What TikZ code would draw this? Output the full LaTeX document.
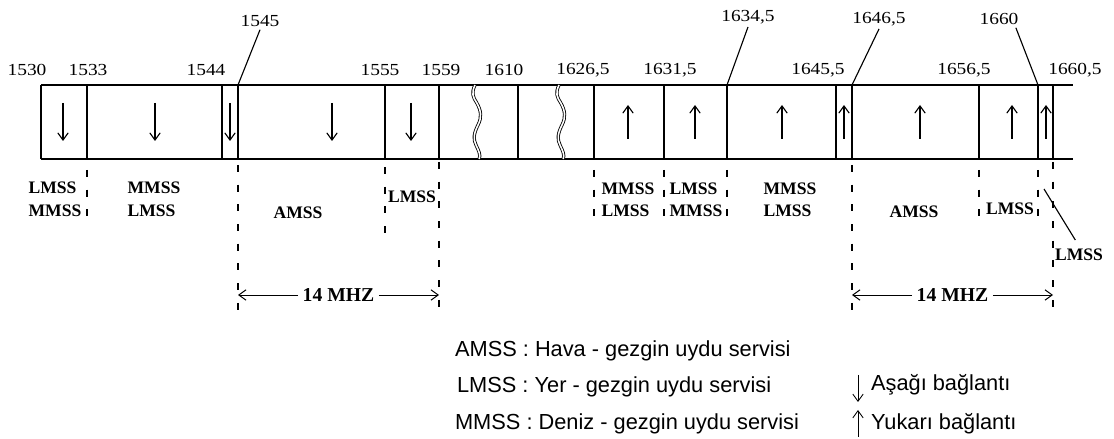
\documentclass[tikz,border=0pt]{standalone}
\usepackage{fontspec}
\setmainfont{Liberation Serif}
\newfontfamily\freqfont{Liberation Serif}[FakeStretch=1.15]
\newfontfamily\legendfont{Liberation Sans}
\usepackage{tikz}
\usetikzlibrary{arrows.meta,positioning}

\begin{document}
\begin{tikzpicture}[
  >={Straight Barb[length=1.8mm,width=2.6mm]},
  every node/.style={inner sep=2pt},
  freq/.style={font=\freqfont\fontsize{12}{14}\selectfont},
  svc/.style={font=\fontsize{12.5}{16}\selectfont\bfseries,align=left},
  band/.style={line width=1.3pt},
  sep/.style={line width=1.1pt},
  dir/.style={->,line width=0.8pt},
  guide/.style={line width=1pt,dash pattern=on 5pt off 9pt},
  tear/.style={double,double distance=1.1pt,line width=0.6pt},
  span/.style={->,line width=0.7pt},
  legend/.style={font=\legendfont\fontsize{15.5}{18}\selectfont,anchor=west}
]
  \useasboundingbox (0,0) rectangle (27.85,10.975);

  % Band: upper and lower edges, boundaries
  \draw[band] (1.025,8.85) -- (26.825,8.85);
  \draw[band] (1.025,7.0) -- (26.825,7.0);
  \draw[sep] (1.025,8.85) -- (1.025,7.0);
  \draw[sep] (2.175,8.85) -- (2.175,7.0);
  \draw[sep] (5.55,8.85) -- (5.55,7.0);
  \draw[sep] (5.95,8.85) -- (5.95,7.0);
  \draw[sep] (9.625,8.85) -- (9.625,7.0);
  \draw[sep] (10.975,8.85) -- (10.975,7.0);
  \draw[sep] (12.95,8.85) -- (12.95,7.0);
  \draw[sep] (14.85,8.85) -- (14.85,7.0);
  \draw[sep] (16.6,8.85) -- (16.6,7.0);
  \draw[sep] (18.175,8.85) -- (18.175,7.0);
  \draw[sep] (20.9,8.85) -- (20.9,7.0);
  \draw[sep] (21.3,8.85) -- (21.3,7.0);
  \draw[sep] (24.475,8.85) -- (24.475,7.0);
  \draw[sep] (25.95,8.85) -- (25.95,7.0);
  \draw[sep] (26.325,8.85) -- (26.325,7.0);

  % Broken parts of the band
  \draw[tear] (11.875,8.85) .. controls (11.78,8.65) and (11.82,8.55) .. (11.92,8.40)
    .. controls (12.03,8.20) and (12.05,8.05) .. (11.95,7.85)
    .. controls (11.85,7.65) and (11.82,7.50) .. (11.90,7.35)
    .. controls (11.97,7.20) and (12.02,7.10) .. (11.98,7.0);
  \draw[tear,xshift=2.1cm] (11.875,8.85) .. controls (11.78,8.65) and (11.82,8.55) .. (11.92,8.40)
    .. controls (12.03,8.20) and (12.05,8.05) .. (11.95,7.85)
    .. controls (11.85,7.65) and (11.82,7.50) .. (11.90,7.35)
    .. controls (11.97,7.20) and (12.02,7.10) .. (11.98,7.0);

  % Down and up links
  \draw[dir] (1.575,8.4) -- (1.575,7.45);
  \draw[dir] (3.875,8.4) -- (3.875,7.45);
  \draw[dir] (5.75,8.4) -- (5.75,7.45);
  \draw[dir] (8.3,8.4) -- (8.3,7.45);
  \draw[dir] (10.275,8.4) -- (10.275,7.45);
  \draw[dir] (15.7,7.5) -- (15.7,8.35);
  \draw[dir] (17.375,7.5) -- (17.375,8.35);
  \draw[dir] (19.55,7.5) -- (19.55,8.35);
  \draw[dir] (21.1,7.5) -- (21.1,8.35);
  \draw[dir] (23.0,7.5) -- (23.0,8.35);
  \draw[dir] (25.3,7.5) -- (25.3,8.35);
  \draw[dir] (26.15,7.5) -- (26.15,8.35);

  % Frequencies (MHz)
  \node[freq] (f1530) at (0.675,9.225) {1530};
  \node[freq] (f1533) at (2.2,9.225) {1533};
  \node[freq] (f1544) at (5.15,9.225) {1544};
  \node[freq] (f1555) at (9.5,9.225) {1555};
  \node[freq] (f1559) at (11.025,9.225) {1559};
  \node[freq] (f1610) at (12.6,9.225) {1610};
  \node[freq] (f1626) at (14.575,9.225) {1626,5};
  \node[freq] (f1631) at (16.75,9.225) {1631,5};
  \node[freq] (f1645) at (20.45,9.225) {1645,5};
  \node[freq] (f1656) at (24.1,9.225) {1656,5};
  \node[freq] (f1660b) at (26.875,9.225) {1660,5};
  \node[freq] (f1545) at (6.5,10.45) {1545};
  \node[freq] (f1634) at (18.7,10.55) {1634,5};
  \node[freq] (f1646) at (21.975,10.5) {1646,5};
  \node[freq] (f1660) at (24.975,10.5) {1660};
  \coordinate (t1545) at (5.95,8.85);
  \coordinate (t1634) at (18.175,8.85);
  \coordinate (t1646) at (21.3,8.85);
  \coordinate (t1660) at (25.95,8.85);
  \draw[line width=0.8pt] (t1545) -- (f1545.south);
  \draw[line width=0.8pt] (t1634) -- (f1634.south);
  \draw[line width=0.8pt] (t1646) -- (f1646.south);
  \draw[line width=0.8pt] (t1660) -- ([xshift=-4pt]f1660.south east);

  % Guides below the band
  \draw[guide] (2.175,6.725) -- (2.175,5.275);
  \draw[guide] (5.95,6.85) -- (5.95,3.175);
  \draw[guide] (9.625,6.8) -- (9.625,4.875);
  \draw[guide] (10.975,6.925) -- (10.975,3.225);
  \draw[guide] (14.85,6.725) -- (14.85,5.275);
  \draw[guide] (16.6,6.725) -- (16.6,5.275);
  \draw[guide] (18.175,6.725) -- (18.175,5.275);
  \draw[guide] (21.3,6.85) -- (21.3,3.175);
  \draw[guide] (24.475,6.725) -- (24.475,5.275);
  \draw[guide] (25.95,6.725) -- (25.95,5.35);
  \draw[guide] (26.325,6.925) -- (26.325,3.225);

  % Services
  \node[svc] (s1) at (1.375,5.99) {LMSS\\MMSS};
  \node[svc] (s2) at (3.85,5.99) {MMSS\\LMSS};
  \node[svc] (s3) at (7.45,5.65) {AMSS};
  \node[svc] (s4) at (10.3,6.05) {LMSS};
  \node[svc] (s5) at (15.7,5.975) {MMSS\\LMSS};
  \node[svc] (s6) at (17.4,5.975) {LMSS\\MMSS};
  \node[svc] (s7) at (19.75,5.975) {MMSS\\LMSS};
  \node[svc] (s8) at (22.85,5.675) {AMSS};
  \node[svc] (s9) at (25.25,5.75) {LMSS};
  \node[svc] (lmssR) at (26.975,4.6) {LMSS};
  \coordinate (d1660) at (26.1,6.25);
  \draw[line width=0.8pt,shorten >=5pt] (d1660) -- (lmssR.north);

  % 14 MHZ spacing
  \node[svc,font=\fontsize{14}{16}\selectfont\bfseries,fill=white,inner sep=3pt] (mhzA) at (8.4625,3.6) {14 MHZ};
  \coordinate (a1545) at (5.95,3.6);
  \coordinate (a1559) at (10.975,3.6);
  \draw[span] (mhzA) -- (a1545);
  \draw[span] (mhzA) -- (a1559);
  \node[svc,font=\fontsize{14}{16}\selectfont\bfseries,fill=white,inner sep=3pt] (mhzB) at (23.8125,3.6) {14 MHZ};
  \coordinate (a1646) at (21.3,3.6);
  \coordinate (a1660) at (26.325,3.6);
  \draw[span] (mhzB) -- (a1646);
  \draw[span] (mhzB) -- (a1660);

  % Legend
  \node[legend] (kA) at (11.3,2.2) {AMSS : Hava - gezgin uydu servisi};
  \node[legend] (kL) at (11.35,1.3) {LMSS : Yer - gezgin uydu servisi};
  \node[legend] (kM) at (11.3,0.375) {MMSS : Deniz - gezgin uydu servisi};
  \draw[dir,line width=0.6pt] (21.45,1.6) -- (21.45,0.925);
  \node[legend] (kDown) at (21.7,1.35) {Aşağı bağlantı};
  \draw[dir,line width=0.6pt] (21.45,0.05) -- (21.45,0.725);
  \node[legend] (kUp) at (21.7,0.375) {Yukarı bağlantı};
\end{tikzpicture}
\end{document}
